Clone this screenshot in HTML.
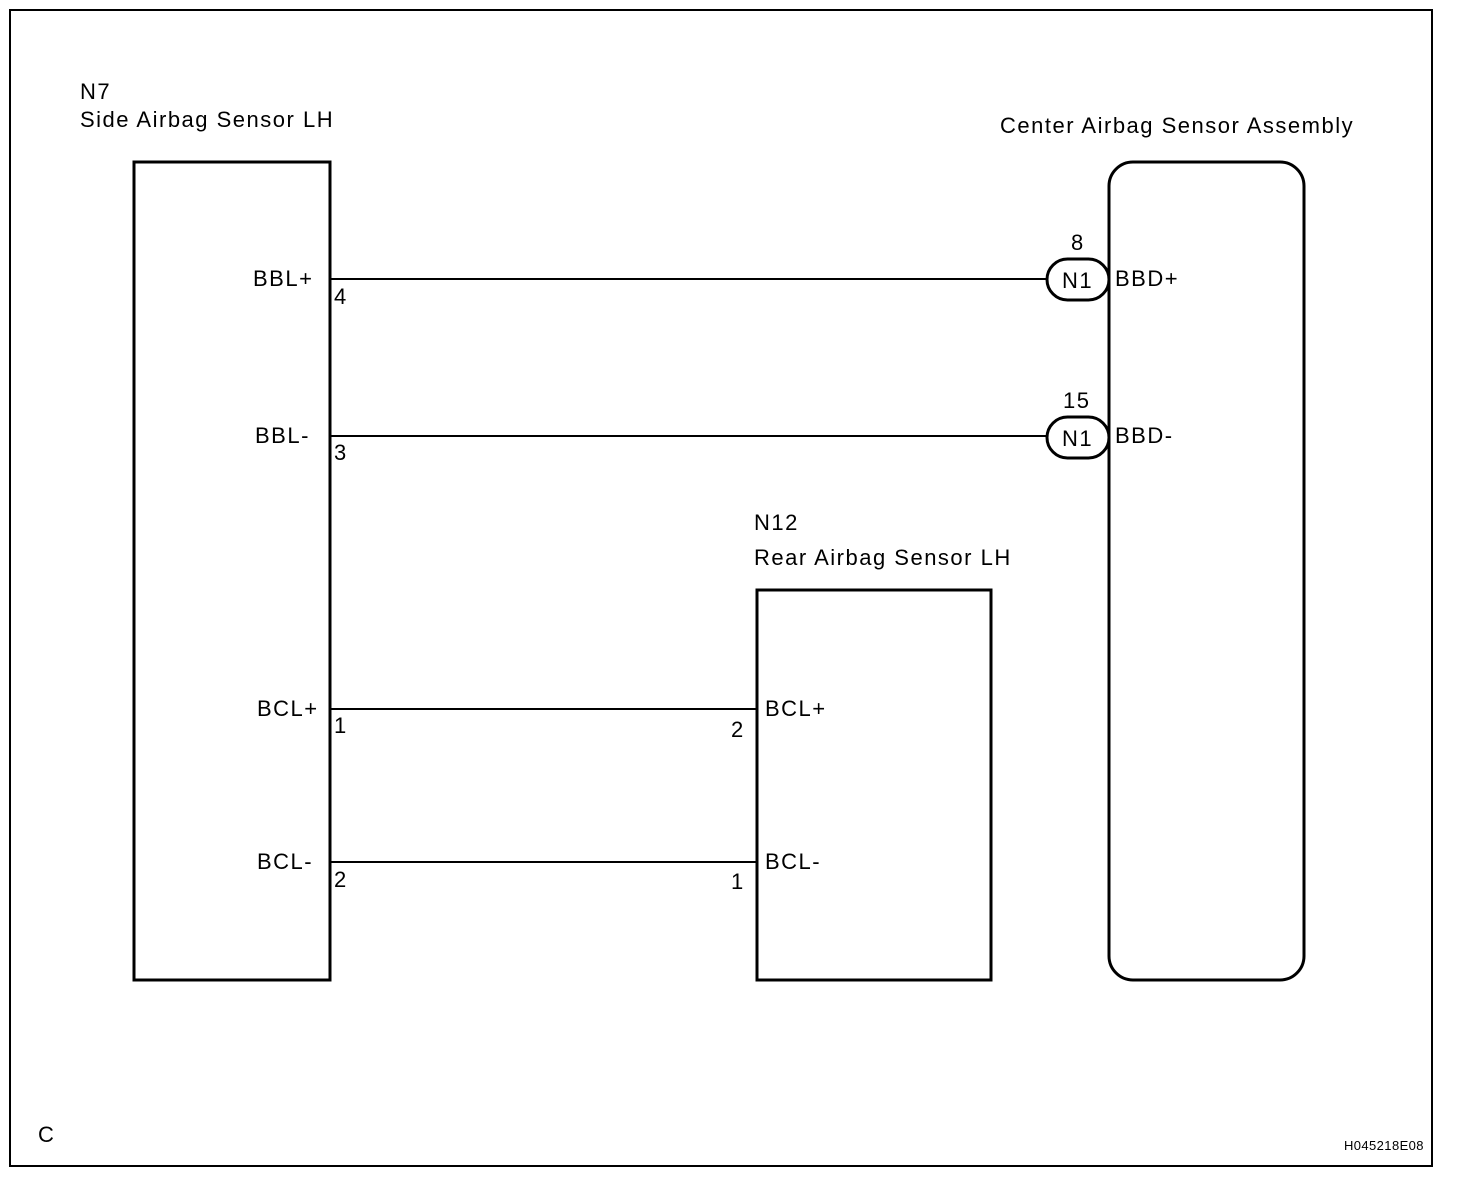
<!DOCTYPE html>
<html><head><style>
html,body{margin:0;padding:0;background:#fff;}
svg{display:block;}
text{font-family:"Liberation Sans",Arial,sans-serif;font-size:22px;fill:#000;letter-spacing:1.5px;}
</style></head><body>
<svg width="1472" height="1182" viewBox="0 0 1472 1182">
<rect x="10" y="10" width="1422" height="1156" fill="none" stroke="#000" stroke-width="2"/>
<text x="80" y="99">N7</text>
<text x="80" y="127">Side Airbag Sensor LH</text>
<text x="1000" y="133">Center Airbag Sensor Assembly</text>
<rect x="134" y="162" width="196" height="818" fill="none" stroke="#000" stroke-width="3"/>
<rect x="1109" y="162" width="195" height="818" rx="24" ry="24" fill="none" stroke="#000" stroke-width="3"/>
<rect x="757" y="590" width="234" height="390" fill="none" stroke="#000" stroke-width="3"/>
<text x="754" y="530">N12</text>
<text x="754" y="565">Rear Airbag Sensor LH</text>
<g stroke="#000" stroke-width="2">
<line x1="330" y1="279" x2="1047" y2="279"/>
<line x1="330" y1="436" x2="1047" y2="436"/>
<line x1="330" y1="709" x2="757" y2="709"/>
<line x1="330" y1="862" x2="757" y2="862"/>
</g>
<rect x="1047" y="259" width="62" height="41" rx="20.5" fill="#fff" stroke="#000" stroke-width="3"/>
<rect x="1047" y="417" width="62" height="41" rx="20.5" fill="#fff" stroke="#000" stroke-width="3"/>
<text x="1062" y="288">N1</text>
<text x="1062" y="446">N1</text>
<text x="1071" y="250">8</text>
<text x="1063" y="408">15</text>
<text x="1115" y="286">BBD+</text>
<text x="1115" y="443">BBD-</text>
<text x="253" y="286">BBL+</text>
<text x="255" y="443">BBL-</text>
<text x="257" y="716">BCL+</text>
<text x="257" y="869">BCL-</text>
<text x="334" y="304">4</text>
<text x="334" y="460">3</text>
<text x="334" y="733">1</text>
<text x="334" y="887">2</text>
<text x="765" y="716">BCL+</text>
<text x="765" y="869">BCL-</text>
<text x="731" y="737">2</text>
<text x="731" y="889">1</text>
<text x="38" y="1142">C</text>
<text x="1344" y="1150" style="font-size:13px;letter-spacing:0.4px">H045218E08</text>
</svg>
</body></html>
